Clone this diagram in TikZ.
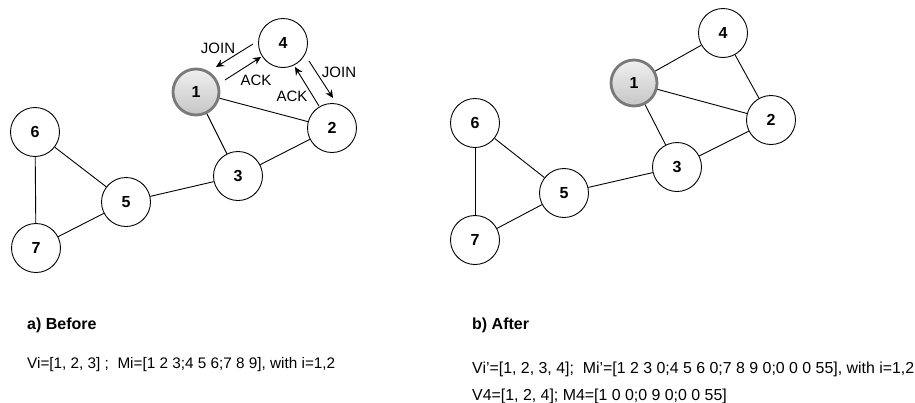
\documentclass[tikz,border=0pt]{standalone}
\usepackage{fontspec}
\setmainfont{Liberation Sans}
\usetikzlibrary{arrows.meta}
\begin{document}
\begin{tikzpicture}[x=1pt,y=-1pt,
  vertex/.style={circle,draw=black,line width=0.9pt,fill=white,minimum size=49pt,inner sep=0pt,font=\fontsize{16}{18}\selectfont\bfseries},
  root/.style={circle,draw=gray!95!black,line width=2.8pt,top color=gray!12,bottom color=gray!45,minimum size=46pt,inner sep=0pt,font=\fontsize{16}{18}\selectfont\bfseries},
  link/.style={line width=0.9pt,black},
  msg/.style={line width=0.9pt,black,-{Stealth[length=8pt,width=7.5pt]}},
  msglabel/.style={font=\fontsize{15}{17}\selectfont,inner sep=0pt},
  caption/.style={font=\fontsize{16}{18}\selectfont\bfseries,anchor=base west,inner sep=0pt},
  info/.style={font=\fontsize{15.3}{17}\selectfont,anchor=base west,inner sep=0pt},
  infob/.style={font=\fontsize{15.9}{18}\selectfont,anchor=base west,inner sep=0pt}]
\useasboundingbox (0,0) rectangle (915,402);
% ---- a) before ----
\node[root] (a1) at (196,92) {1};
\node[vertex] (a2) at (332,128) {2};
\node[vertex] (a3) at (238,176) {3};
\node[vertex] (a4) at (283,43) {4};
\node[vertex] (a5) at (126,202) {5};
\node[vertex] (a6) at (35,132) {6};
\node[vertex] (a7) at (36,248) {7};
\draw[link] (a1) -- (a2);
\draw[link] (a1) -- (a3);
\draw[link] (a2) -- (a3);
\draw[link] (a3) -- (a5);
\draw[link] (a5) -- (a6);
\draw[link] (a5) -- (a7);
\draw[link] (a6) -- (a7);
\coordinate (j1s) at (253,44);
\coordinate (j1e) at (216,67);
\coordinate (k1s) at (225,80);
\coordinate (k1e) at (261,57);
\coordinate (j2s) at (309,61);
\coordinate (j2e) at (333,98);
\coordinate (k2s) at (319,106);
\coordinate (k2e) at (295,67);
\draw[msg] (j1s) -- (j1e);
\draw[msg] (k1s) -- (k1e);
\draw[msg] (j2s) -- (j2e);
\draw[msg] (k2s) -- (k2e);
\node[msglabel] (lj1) at (218,48) {JOIN};
\node[msglabel] (lk1) at (256,80) {ACK};
\node[msglabel] (lj2) at (339,72) {JOIN};
\node[msglabel] (lk2) at (292,96) {ACK};
% ---- b) after ----
\node[root] (b1) at (634,83) {1};
\node[vertex] (b2) at (771,120) {2};
\node[vertex] (b3) at (677,167) {3};
\node[vertex] (b4) at (723,33) {4};
\node[vertex] (b5) at (564,193) {5};
\node[vertex] (b6) at (475,123) {6};
\node[vertex] (b7) at (475,240) {7};
\draw[link] (b1) -- (b4);
\draw[link] (b4) -- (b2);
\draw[link] (b1) -- (b2);
\draw[link] (b1) -- (b3);
\draw[link] (b2) -- (b3);
\draw[link] (b3) -- (b5);
\draw[link] (b5) -- (b6);
\draw[link] (b5) -- (b7);
\draw[link] (b6) -- (b7);
% ---- captions ----
\node[caption] (ca) at (27,329) {a) Before};
\node[info] (ia) at (27,368) {Vi=[1, 2, 3] ;\ \ Mi=[1 2 3;4 5 6;7 8 9], with i=1,2};
\node[caption] (cb) at (472,329) {b) After};
\node[infob] (ib) at (472,373) {Vi'=[1, 2, 3, 4];\ \ Mi'=[1 2 3 0;4 5 6 0;7 8 9 0;0 0 0 55], with i=1,2};
\node[infob] (ic) at (472,400.5) {V4=[1, 2, 4]; M4=[1 0 0;0 9 0;0 0 55]};
\end{tikzpicture}
\end{document}
